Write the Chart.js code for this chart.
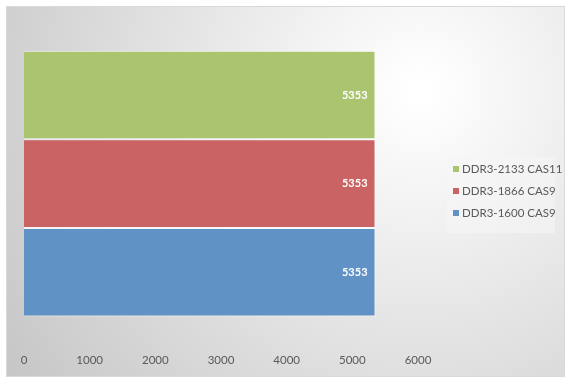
<!DOCTYPE html>
<html>
<head>
<meta charset="utf-8">
<script src="https://cdn.jsdelivr.net/npm/chart.js@4"></script>
<style>
  body { margin: 0; background: #fff; }
  #wrap { position: relative; width: 571px; height: 385px; }
  #legend {
    position: absolute; left: 447px; top: 157px; width: 108px; height: 76px;
    background: rgba(245,245,245,0.55);
    font: 11.5px Lato, "Liberation Sans", sans-serif; color: #595959;
    box-sizing: border-box; padding-top: 1px;
  }
  #legend div { height: 22px; line-height: 22px; padding-left: 6px; white-space: nowrap; }
  #legend span { display: inline-block; width: 6px; height: 6px; margin-right: 3px; vertical-align: 1px; }
</style>
</head>
<body>
<div id="wrap">
  <canvas id="chart" width="571" height="385"></canvas>
  <div id="legend"></div>
</div>
<script>
// Series (top to bottom as drawn)
const seriesNames = ["DDR3-2133 CAS11", "DDR3-1866 CAS9", "DDR3-1600 CAS9"];
const seriesValues = [5353, 5353, 5353];
const seriesColors = ["#abc470", "#c96364", "#6192c5"];
const categories = [""];
const tickValues = [0, 1000, 2000, 3000, 4000, 5000, 6000];

// legend
const legend = document.getElementById("legend");
seriesNames.forEach((name, i) => {
    legend.innerHTML += `<div><span style="background:${seriesColors[i]}"></span>${name}</div>`;
});

// chart area background (gradient box)
const bgPlugin = {
    id: "bg",
    beforeDraw(chart) {
        const c = chart.ctx;
        const g = c.createRadialGradient(420, 90, 10, 420, 90, 520);
        g.addColorStop(0, "#ffffff");
        g.addColorStop(1, "#c4c4c4");
        c.save();
        c.fillStyle = g;
        c.fillRect(7, 7, 557, 369);
        c.strokeStyle = "#d9d9d9";
        c.lineWidth = 1;
        c.strokeRect(6.5, 6.5, 558, 370);
        c.restore();
    }
};

// value labels inside bar ends
const labelPlugin = {
    id: "labels",
    afterDatasetsDraw(chart) {
        const c = chart.ctx;
        c.save();
        c.font = "bold 11px Lato, 'Liberation Sans', sans-serif";
        c.fillStyle = "#ffffff";
        c.textAlign = "right";
        c.textBaseline = "middle";
        chart.data.datasets.forEach((ds, i) => {
            chart.getDatasetMeta(i).data.forEach((bar, j) => {
                c.fillText(String(ds.data[j]), bar.x - 8, bar.y);
            });
        });
        c.restore();
    }
};

new Chart(document.getElementById("chart"), {
    type: "bar",
    data: {
        labels: categories,
        datasets: seriesNames.map((name, i) => ({
            label: name,
            data: [seriesValues[i]],
            backgroundColor: seriesColors[i],
            borderColor: "rgba(255,255,255,0.75)",
            borderWidth: 1,
            barPercentage: 1,
            categoryPercentage: 0.833
        }))
    },
    options: {
        indexAxis: "y",
        responsive: false,
        animation: false,
        layout: { padding: { left: 24, right: 153, top: 24, bottom: 8 } },
        plugins: {
            legend: { display: false },
            tooltip: { enabled: false }
        },
        scales: {
            x: {
                min: 0,
                max: 6000,
                afterBuildTicks: axis => { axis.ticks = tickValues.map(v => ({ value: v })); },
                grid: { display: false, drawTicks: false },
                border: { display: false },
                ticks: {
                    padding: 10,
                    color: "#595959",
                    callback: v => String(v),
                    font: { family: "Lato, 'Liberation Sans', sans-serif", size: 11.5 }
                }
            },
            y: { display: false }
        }
    },
    plugins: [bgPlugin, labelPlugin]
});
</script>
</body>
</html>
